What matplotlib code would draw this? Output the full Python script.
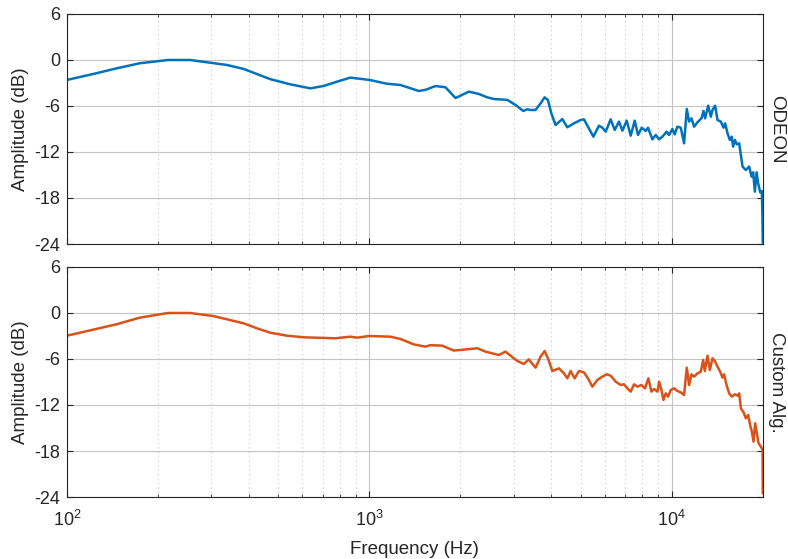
import numpy as np
import matplotlib
matplotlib.use("Agg")
import matplotlib.pyplot as plt

plt.rcParams["font.family"] = ["Liberation Sans", "DejaVu Sans"]
plt.rcParams["axes.unicode_minus"] = False

# frequency response, ODEON
odeon_f = [100, 122, 146, 174, 216, 255, 297, 338, 384, 470, 547, 638, 706, 782, 865, 1000,
           1144, 1267, 1456, 1532, 1654, 1785,
           1927, 2133, 2301, 2453, 2580, 2858, 3043, 3228, 3327, 3413, 3545, 3684, 3798,
           3895, 3998, 4128, 4345, 4515, 4749, 4998, 5124, 5283, 5505, 5745, 5894, 6047,
           6280, 6477, 6692, 6868, 7096, 7316, 7543, 7734, 7956, 8203, 8346, 8630, 8853,
           9080, 9313, 9624, 9799, 10046, 10233, 10434, 10710, 10985, 11212, 11411, 11620,
           11855, 12162, 12540, 12735, 12890, 13195, 13465, 13640, 13912, 14167, 14530,
           14832, 15016, 15292, 15560, 15790, 15960, 16170, 16420, 16710, 17140, 17580,
           18030, 18360, 18590, 18830, 19080, 19310, 19610, 19860, 19950, 20000]
odeon_db = [-2.6, -1.83, -1.09, -0.43, 0.0, 0.0, -0.35, -0.65, -1.17, -2.5, -3.17, -3.7,
            -3.39, -2.83, -2.3, -2.6, -3.1, -3.26, -4.04, -3.9, -3.4,
            -3.56, -4.96, -4.13, -4.43, -4.87, -5.09, -5.2, -5.87, -6.65, -6.43, -6.52,
            -6.52, -5.65, -4.87, -5.22, -6.96, -8.48, -7.7, -8.78, -8.26, -7.83, -7.74,
            -8.7, -10.0, -8.57, -8.83, -9.35, -7.74, -9.13, -8.04, -9.22, -7.91, -9.87,
            -7.91, -9.78, -8.83, -9.26, -8.83, -10.35, -9.78, -10.35, -10.0, -9.35, -9.78,
            -9.0, -9.7, -8.7, -8.83, -10.87, -6.39, -8.04, -7.61, -8.7, -8.13, -7.61,
            -6.65, -7.61, -5.96, -7.39, -6.52, -5.96, -7.83, -8.04, -8.83, -8.26, -9.57,
            -10.43, -10.0, -11.3, -10.43, -11.0, -10.87, -13.9, -14.35, -13.9, -15.22,
            -14.65, -17.17, -14.65, -16.1, -17.26, -17.09, -20.5, -23.8]

# frequency response, custom algorithm
custom_f = [100, 146, 174, 216, 255, 305, 384, 425, 470, 534, 606, 772, 865, 910, 1000,
            1174, 1267, 1402,
            1532, 1592, 1741, 1902, 2053, 2274, 2422, 2680, 2820, 3083, 3243, 3369, 3413,
            3545, 3684, 3798, 3895, 4027, 4236, 4400, 4515, 4630, 4774, 4932, 5124, 5283,
            5464, 5675, 5894, 6094, 6280, 6526, 6779, 6950, 7133, 7316, 7505, 7697, 7936,
            8156, 8370, 8564, 8738, 8970, 9080, 9245, 9387, 9553, 9721, 9924, 10176, 10434,
            10710, 10985, 11212, 11411, 11620, 11855, 12162, 12474, 12700, 12863, 13130,
            13361, 13640, 13880, 14167, 14454, 14717, 14900, 15175, 15480, 15790, 16170,
            16500, 16710, 16930, 17280, 17580, 17890, 18160, 18400, 18640, 18870, 19120,
            19370, 19710, 19970, 20000]
custom_db = [-2.96, -1.47, -0.61, 0.0, 0.0, -0.4, -1.35, -2.0, -2.57, -2.96, -3.17, -3.3,
             -3.09, -3.22, -3.0, -3.09,
             -3.39, -4.09, -4.39, -4.2, -4.26, -4.9, -4.78, -4.6, -5.04, -5.48, -5.04,
             -6.26, -6.65, -6.04, -6.35, -7.13, -5.7, -4.96, -5.91, -7.57, -7.22, -7.87,
             -8.52, -7.57, -8.52, -7.57, -7.74, -8.52, -9.61, -8.74, -8.3, -8.0, -8.17,
             -8.96, -9.39, -9.3, -9.83, -10.26, -9.3, -9.61, -9.39, -9.83, -8.52, -10.26,
             -9.91, -10.26, -8.96, -10.04, -11.35, -10.48, -10.91, -10.04, -9.83, -10.17,
             -10.35, -10.7, -7.13, -9.39, -8.0, -8.3, -7.87, -7.65, -6.13, -7.57, -5.57,
             -7.43, -5.91, -6.26, -7.0, -7.65, -8.43, -8.0, -9.39, -10.48, -10.91, -10.61,
             -10.78, -10.48, -12.43, -12.96, -13.74, -13.3, -14.61, -15.48, -16.78, -14.39,
             -15.7, -17.0, -17.43, -17.87, -23.5]

series = [(odeon_f, odeon_db, "#0072BD", "ODEON"),
          (custom_f, custom_db, "#D95319", "Custom Alg.")]

fig = plt.figure(figsize=(7.88, 5.59), dpi=100)
axes = [fig.add_axes([0.085, 0.5635, 0.883, 0.4115]),
        fig.add_axes([0.085, 0.1109, 0.883, 0.4115])]

for ax, (f, db, color, name) in zip(axes, series):
    ax.semilogx(f, db, color=color, lw=1.8)
    ax.set_xlim(100, 20000)
    ax.set_ylim(-24, 6)
    ax.set_yticks([-24, -18, -12, -6, 0, 6])
    ax.grid(True, which="major", color="#c4c4c4", lw=0.8)
    ax.grid(True, which="minor", axis="x", color="#c8c8c8", lw=0.8, ls=(0, (1, 3)))
    ax.set_axisbelow(True)
    ax.tick_params(which="both", direction="in", top=True, right=True,
                   labelsize=13, colors="#262626")
    ax.tick_params(which="major", length=4)
    ax.tick_params(which="minor", length=2.5)
    ax.tick_params(axis="y", pad=5)
    ax.tick_params(axis="x", pad=9)
    for s in ax.spines.values():
        s.set_color("#262626")
        s.set_linewidth(0.8)
    ax.set_ylabel("Amplitude (dB)", fontsize=13.5, color="#262626", labelpad=4)
    ax.text(1.008, 0.5, name, rotation=-90, transform=ax.transAxes,
            ha="left", va="center", fontsize=13.5, color="#262626")

axes[0].tick_params(labelbottom=False)
axes[1].set_xlabel("Frequency (Hz)", fontsize=13.5, color="#262626", labelpad=8)

fig.savefig("out.png", dpi=100)
